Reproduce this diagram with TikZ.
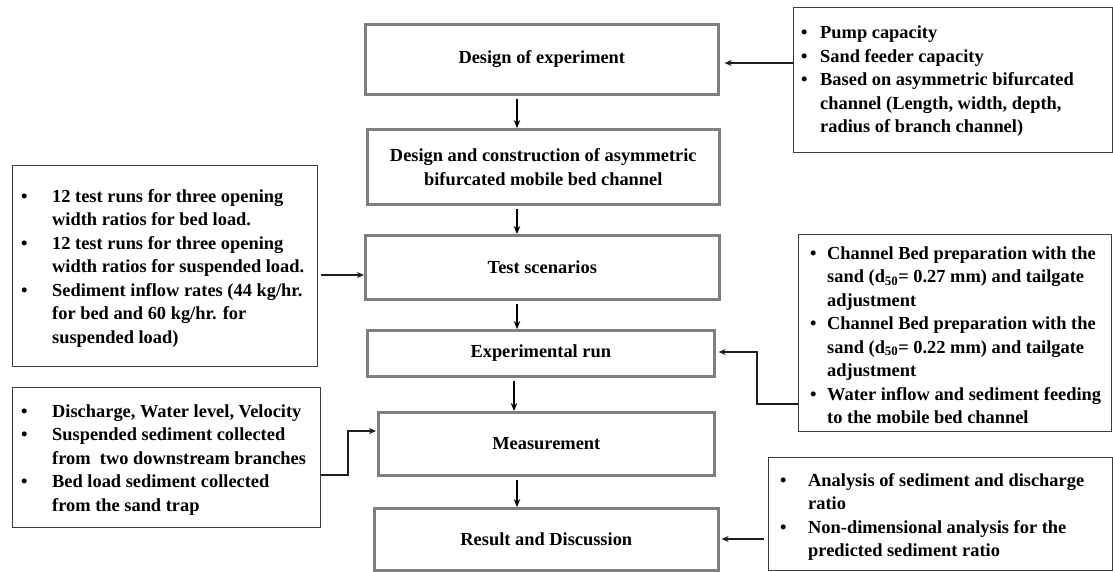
\documentclass[tikz,border=0pt]{standalone}
\usepackage{fontspec}
\setmainfont{Liberation Serif}
\usetikzlibrary{arrows.meta,calc}
\definecolor{boxgray}{HTML}{7F7F7F}
\definecolor{sidegray}{HTML}{3C3C3C}
\definecolor{linegray}{HTML}{1E1E1E}
\newcommand\fsz{\fontsize{18.4pt}{23.5pt}\selectfont\bfseries}
\newcommand\bul[1]{\llap{\makebox[#1][l]{\textbullet}}}
\tikzset{
 mainbox/.style={draw=boxgray, line width=2.6pt, anchor=north west, inner sep=0pt, align=center, font=\fsz},
 sidebox/.style={draw=sidegray, line width=1.4pt, anchor=north west, inner sep=0pt},
 sidetext/.style={anchor=west, inner sep=0pt, align=left, font=\fsz},
 varr/.style={-{Stealth[length=8pt,width=6.5pt]}, line width=1.8pt, draw=black},
 harr/.style={-{Stealth[length=7pt,width=6pt]}, line width=1.3pt, draw=linegray}
}
\begin{document}
\begin{tikzpicture}[x=1pt,y=-1pt]
\useasboundingbox (0,0) rectangle (1113,571);
\fill[white] (0,0) rectangle (1113,571);

% main column
\node[mainbox, minimum width=353pt, minimum height=70pt] (B1) at (364,23) {Design of experiment};
\node[mainbox, minimum width=352pt, minimum height=75pt] (B2) at (366,128) {Design and construction of asymmetric\\[0.5pt]bifurcated mobile bed channel};
\node[mainbox, minimum width=354pt, minimum height=64pt] (B3) at (364,234) {Test scenarios};
\node[mainbox, minimum width=347pt, minimum height=46pt] (B4) at (366,329) {Experimental run};
\node[mainbox, minimum width=336pt, minimum height=63pt] (B5) at (377,411) {Measurement};
\node[mainbox, minimum width=344pt, minimum height=62pt] (B6) at (373,507) {Result and Discussion};

% side boxes
\node[sidebox, minimum width=319pt, minimum height=145pt] (R1) at (793,7) {};
\node[sidetext] (R1t) at ($(R1.west)+(27,1)$) {\bul{19pt}Pump capacity\\
\bul{19pt}Sand feeder capacity\\
\bul{19pt}Based on asymmetric bifurcated\\
channel (Length, width, depth,\\
radius of branch channel)};

\node[sidebox, minimum width=305pt, minimum height=201pt] (L1) at (12,165) {};
\node[sidetext] (L1t) at ($(L1.west)+(40,2)$) {\bul{31pt}12 test runs for three opening\\
width ratios for bed load.\\
\bul{31pt}12 test runs for three opening\\
width ratios for suspended load.\\
\bul{31pt}Sediment inflow rates (44 kg/hr.\\
for bed and 60 kg/hr. for\\
suspended load)};

\node[sidebox, minimum width=313pt, minimum height=197pt] (R2) at (798,234) {};
\node[sidetext] (R2t) at ($(R2.west)+(29,2)$) {\bul{17pt}Channel Bed preparation with the\\
sand (d\textsubscript{50}= 0.27 mm) and tailgate\\
adjustment\\
\bul{17pt}Channel Bed preparation with the\\
sand (d\textsubscript{50}= 0.22 mm) and tailgate\\
adjustment\\
\bul{17pt}Water inflow and sediment feeding\\
to the mobile bed channel};

\node[sidebox, minimum width=308pt, minimum height=140pt] (L2) at (12,387) {};
\node[sidetext] (L2t) at ($(L2.west)+(40,2)$) {\bul{31pt}Discharge, Water level, Velocity\\
\bul{31pt}Suspended sediment collected\\
from\ \ two downstream branches\\
\bul{31pt}Bed load sediment collected\\
from the sand trap};

\node[sidebox, minimum width=344pt, minimum height=113pt] (R3) at (768,457) {};
\node[sidetext] (R3t) at ($(R3.west)+(40,3)$) {\bul{28pt}Analysis of sediment and discharge\\
ratio\\
\bul{28pt}Non-dimensional analysis for the\\
predicted sediment ratio};

% vertical connectors
\coordinate (xa) at (517,0);
\coordinate (xb) at (514,0);
\draw[varr, shorten <=3pt] (B1.south -| xa) -- (B2.north -| xa);
\draw[varr, shorten <=3pt] (B2.south -| xa) -- (B3.north -| xa);
\draw[varr, shorten <=3pt] (B3.south -| xa) -- (B4.north -| xa);
\draw[varr, shorten <=3pt] (B4.south -| xb) -- (B5.north -| xb);
\draw[varr, shorten <=3pt] (B5.south -| xa) -- (B6.north -| xa);

% side connectors
\coordinate (yR1) at (0,63);
\draw[harr, shorten >=5pt] (R1.west |- yR1) -- (B1.east |- yR1);
\coordinate (yL1) at (0,275);
\draw[harr, shorten <=3pt] (L1.east |- yL1) -- (B3.west |- yL1);
\coordinate (yR2a) at (0,404);
\coordinate (yR2b) at (0,352);
\coordinate (xR2) at (757,0);
\draw[harr, shorten >=3pt] (R2.west |- yR2a) -| (xR2 |- yR2b) -- (B4.east |- yR2b);
\coordinate (yL2a) at (0,475);
\coordinate (yL2b) at (0,431);
\coordinate (xL2) at (348,0);
\draw[harr, shorten >=1pt] (L2.east |- yL2a) -| (xL2 |- yL2b) -- (B5.west |- yL2b);
\coordinate (yR3) at (0,539);
\draw[harr, shorten >=2pt, shorten <=4pt] (R3.west |- yR3) -- (B6.east |- yR3);
\end{tikzpicture}
\end{document}
